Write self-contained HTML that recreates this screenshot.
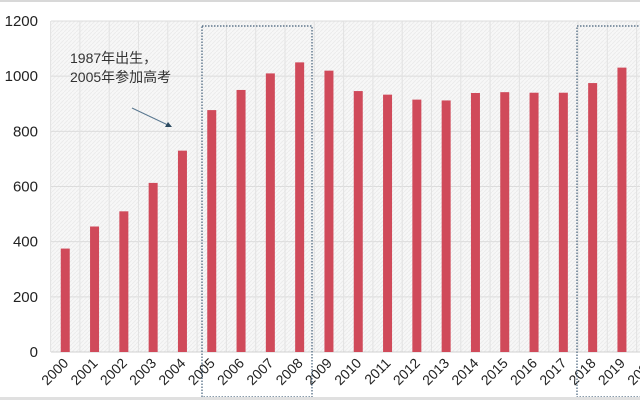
<!DOCTYPE html>
<html><head><meta charset="utf-8"><style>
html,body{margin:0;padding:0;background:#fff;}
svg{display:block;font-family:"Liberation Sans","Noto Sans CJK SC",sans-serif;}
</style></head><body>
<svg id="chart" width="640" height="400" viewBox="0 0 640 400">
<defs>
<pattern id="hatch" width="4" height="4" patternUnits="userSpaceOnUse">
<rect width="4" height="4" fill="#f7f7f7"/><path d="M0,4 L4,0" stroke="#ececec" stroke-width="1"/>
</pattern>
</defs>
<rect x="0" y="0" width="640" height="2" fill="#d8d8d8"/>
<rect x="51" y="21" width="589" height="331" fill="url(#hatch)"/>
<g id="grid"></g>
<g id="bars"></g>
<g id="ylabels"></g>
<g id="xlabels"></g>
<rect x="202" y="26" width="110" height="371" fill="none" stroke="#44607a" stroke-width="1.2" stroke-dasharray="1.5,1.5"/>
<rect x="577" y="26" width="70" height="371" fill="none" stroke="#44607a" stroke-width="1.2" stroke-dasharray="1.5,1.5"/>
<text x="70" y="63" font-size="14" fill="#333">1987年出生，</text>
<text x="70" y="82" font-size="14" fill="#333">2005年参加高考</text>
<line x1="132" y1="108" x2="170" y2="126" stroke="#5a7890" stroke-width="1"/>
<polygon points="172,127 165,127 168,122" fill="#2c4a60"/>
<rect x="0" y="397" width="640" height="3" fill="#e0e0e0"/>
</svg>
<script>
const years=["2000","2001","2002","2003","2004","2005","2006","2007","2008","2009","2010","2011","2012","2013","2014","2015","2016","2017","2018","2019","2020"];
const values=[375,455,510,613,730,877,950,1010,1050,1020,946,933,915,912,939,942,940,940,975,1031,1071];
const yTicks=[0,200,400,600,800,1000,1200];
const NS="http://www.w3.org/2000/svg";
const x0=50.6,step=29.3,yBase=352,yTop=21,yMax=1200;
function xs(i){return x0+step*(i+0.5);}
function ys(v){return yBase-(v/yMax)*(yBase-yTop);}
const grid=document.getElementById('grid'),bars=document.getElementById('bars'),yl=document.getElementById('ylabels'),xl=document.getElementById('xlabels');
yTicks.forEach(t=>{
 const l=document.createElementNS(NS,'line');
 
 
 l.setAttribute('x1',51);l.setAttribute('x2',640);l.setAttribute('y1',ys(t));l.setAttribute('y2',ys(t));
 l.setAttribute('stroke','#dcdcdc');l.setAttribute('stroke-width','1');grid.appendChild(l);
 const tx=document.createElementNS(NS,'text');
 
 
 tx.setAttribute('x',38);tx.setAttribute('y',ys(t)+5);tx.setAttribute('text-anchor','end');tx.setAttribute('font-size','15');tx.setAttribute('fill','#222');
 tx.textContent=t;yl.appendChild(tx);
});
years.forEach((y,i)=>{
 const g=document.createElementNS(NS,'line');
 
 
 const gx=x0+step*i;
 g.setAttribute('x1',gx);g.setAttribute('x2',gx);g.setAttribute('y1',yTop);g.setAttribute('y2',yBase);
 g.setAttribute('stroke','#e2e2e2');grid.appendChild(g);
 const r=document.createElementNS(NS,'rect');
 
 
 r.setAttribute('x',xs(i)-4.5);r.setAttribute('width',9);r.setAttribute('y',ys(values[i]));r.setAttribute('height',yBase-ys(values[i]));
 r.setAttribute('fill','#d04a5a');bars.appendChild(r);
 const t=document.createElementNS(NS,'text');
 
 
 const tx=xs(i)+4,ty=364;
 t.setAttribute('x',tx);t.setAttribute('y',ty);t.setAttribute('text-anchor','end');t.setAttribute('font-size','14');t.setAttribute('fill','#222');
 t.setAttribute('transform','rotate(-45 '+tx+' '+ty+')');
 t.textContent=y;xl.appendChild(t);
});
const bl=document.createElementNS(NS,'line');


bl.setAttribute('x1',51);bl.setAttribute('x2',640);bl.setAttribute('y1',yBase);bl.setAttribute('y2',yBase);bl.setAttribute('stroke','#d0d0d0');
grid.appendChild(bl);
</script>
</body></html>
